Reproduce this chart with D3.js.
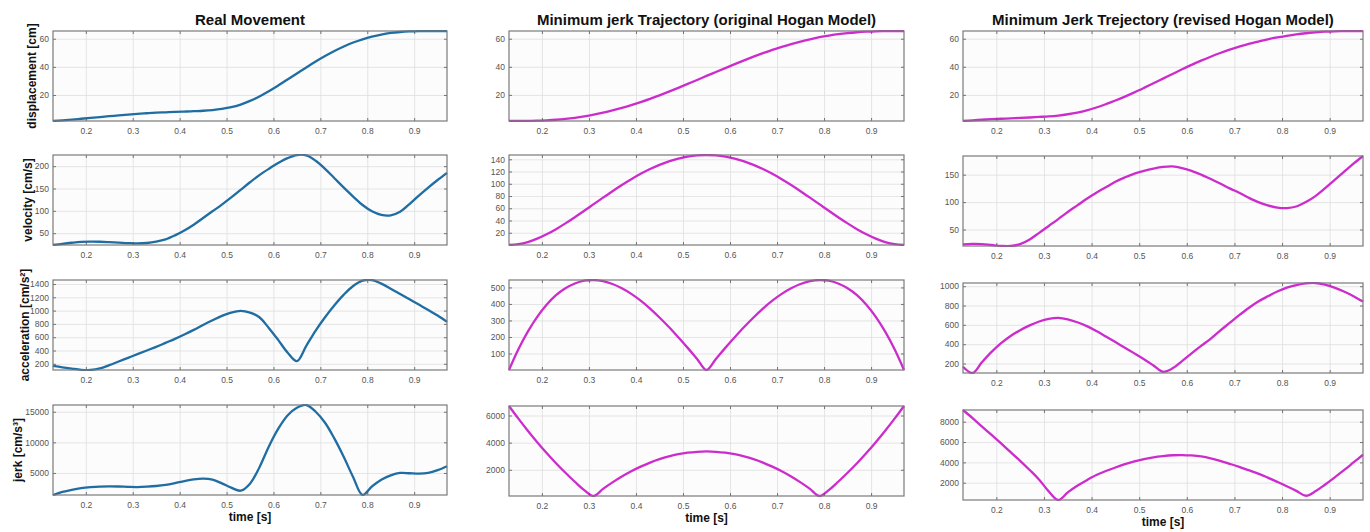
<!DOCTYPE html>
<html>
<head>
<meta charset="utf-8">
<script src="https://cdn.jsdelivr.net/npm/d3@7"></script>
<style>
  body { margin: 0; background: #fff; }
  svg text { font-family: "Liberation Sans", Arial, Helvetica, sans-serif; }
</style>
</head>
<body>
<svg id="chart" width="1370" height="532"></svg>
<script>
// ---- sample times [s] shared by every series ----
const time = [0.13, 0.15, 0.17, 0.19, 0.21, 0.23, 0.25, 0.27, 0.29, 0.31, 0.33, 0.35, 0.37, 0.39, 0.41,
  0.43, 0.45, 0.47, 0.49, 0.51, 0.53, 0.55, 0.57, 0.59, 0.61, 0.63, 0.65, 0.67, 0.69, 0.71, 0.73,
  0.75, 0.77, 0.79, 0.81, 0.83, 0.85, 0.87, 0.89, 0.91, 0.93, 0.95, 0.97];

// ---- real movement ----
const realDisplacement = [1.5, 2.0, 2.5, 3.1, 3.7, 4.3, 4.9, 5.5, 6.1, 6.6, 7.0, 7.4, 7.7, 8.0, 8.2,
  8.5, 8.8, 9.3, 10.1, 11.3, 13.2, 15.8, 18.9, 22.6, 26.7, 31.0, 35.3, 39.6, 43.8, 47.7, 51.3,
  54.5, 57.3, 59.6, 61.5, 63.0, 64.1, 64.8, 65.2, 65.4, 65.5, 65.5, 65.5];
const realVelocity = [23.5, 26, 28.5, 30.5, 31, 30.8, 30, 29, 27.8, 27, 28, 31, 36, 45, 56,
  69, 84, 99, 114, 130, 147, 164, 180, 194, 207, 218, 225, 224, 212, 194, 173,
  152, 132, 113, 99, 91, 90, 98, 115, 134, 152, 169, 185];
const realAcceleration = [170, 148, 128, 110, 107, 130, 180, 235, 290, 345, 400, 455, 515, 575, 640,
  710, 785, 855, 920, 970, 995, 970, 900, 740, 560, 370, 240, 470, 700, 900, 1080,
  1240, 1370, 1450, 1460, 1405, 1330, 1250, 1170, 1090, 1010, 925, 830];
const realJerk = [1400, 1900, 2250, 2520, 2680, 2780, 2815, 2790, 2730, 2700, 2760, 2870, 3060, 3350, 3680,
  3950, 4070, 3900, 3300, 2600, 2100, 3250, 5900, 9300, 12200, 14400, 15650, 16100, 15000, 13200, 10600,
  7600, 4300, 1400, 2800, 3900, 4600, 5000, 4950, 4880, 5000, 5450, 6100];

// ---- minimum jerk trajectory, original Hogan model ----
const hoganDisplacement = [1.4, 1.4, 1.5, 1.6, 1.9, 2.3, 2.9, 3.7, 4.7, 5.9, 7.3, 8.9, 10.7, 12.7, 14.9,
  17.2, 19.7, 22.3, 25.0, 27.8, 30.6, 33.5, 36.3, 39.1, 41.9, 44.6, 47.2, 49.7, 52.1, 54.2, 56.2,
  58.0, 59.6, 61.1, 62.2, 63.2, 64.0, 64.6, 65.0, 65.3, 65.4, 65.5, 65.5];
const hoganVelocity = [0, 1.3, 4.8, 10.4, 17.5, 25.9, 35.3, 45.4, 55.9, 66.7, 77.4, 87.9, 98.0, 107.4, 116.2,
  124.0, 130.8, 136.5, 141.1, 144.3, 146.3, 147, 146.3, 144.3, 141.1, 136.5, 130.8, 124.0, 116.2, 107.4, 98.0,
  87.9, 77.4, 66.7, 55.9, 45.4, 35.3, 25.9, 17.5, 10.4, 4.8, 1.3, 0];
const hoganAcceleration = [0, 125, 232, 322, 395, 453, 495, 524, 541, 545, 538, 521, 495, 461, 420,
  372, 318, 260, 198, 134, 67, 0, 67, 134, 198, 260, 318, 372, 420, 461, 495,
  521, 538, 545, 541, 524, 495, 453, 395, 322, 232, 125, 0];
const hoganJerk = [6700, 5766, 4877, 4034, 3236, 2484, 1778, 1117, 501, 68, 593, 1071, 1504, 1892, 2233,
  2530, 2780, 2985, 3145, 3259, 3327, 3350, 3327, 3259, 3145, 2985, 2780, 2530, 2233, 1892, 1504,
  1071, 593, 68, 501, 1117, 1778, 2484, 3236, 4034, 4877, 5766, 6700];

// ---- minimum jerk trajectory, revised Hogan model ----
const revisedDisplacement = [1.4, 1.9, 2.3, 2.7, 3.0, 3.3, 3.6, 3.9, 4.3, 4.7, 5.3, 6.2, 7.4, 9.0, 11.0,
  13.4, 16.0, 18.8, 21.8, 25.0, 28.3, 31.6, 34.9, 38.2, 41.4, 44.4, 47.2, 49.8, 52.2, 54.3, 56.3,
  58.0, 59.6, 60.9, 62.1, 63.1, 63.9, 64.5, 65.0, 65.3, 65.4, 65.5, 65.5];
const revisedVelocity = [23, 24, 23.5, 21.8, 20.2, 20, 23.5, 32, 44, 56.5, 69, 82, 94, 106, 117,
  127, 137, 145, 152, 157, 161, 164, 165, 162, 157, 150, 142, 134, 125, 117, 108,
  100, 94, 90, 89, 92, 100, 111, 125, 140, 155, 170, 184];
const revisedAcceleration = [166, 102, 215, 320, 410, 485, 545, 595, 635, 662, 672, 657, 627, 587, 537,
  480, 422, 363, 305, 245, 180, 115, 150, 225, 305, 382, 456, 540, 620, 700, 775,
  841, 895, 945, 985, 1012, 1030, 1033, 1015, 985, 945, 897, 841];
const revisedJerk = [9150, 8350, 7520, 6700, 5860, 5000, 4150, 3250, 2300, 1150, 300, 1050, 1700, 2250, 2750,
  3150, 3500, 3820, 4100, 4320, 4500, 4620, 4700, 4720, 4680, 4580, 4400, 4150, 3860, 3560, 3230,
  2900, 2500, 2080, 1650, 1200, 720, 1150, 1800, 2500, 3230, 3990, 4750];

// ---- tick labels ----
const timeTicks = [0.2, 0.3, 0.4, 0.5, 0.6, 0.7, 0.8, 0.9];
const displacementTicks = [20, 40, 60];
const realVelocityTicks = [50, 100, 150, 200];
const realAccelerationTicks = [200, 400, 600, 800, 1000, 1200, 1400];
const realJerkTicks = [5000, 10000, 15000];
const hoganVelocityTicks = [20, 40, 60, 80, 100, 120, 140];
const hoganAccelerationTicks = [100, 200, 300, 400, 500];
const hoganJerkTicks = [2000, 4000, 6000];
const revisedVelocityTicks = [50, 100, 150];
const revisedAccelerationTicks = [200, 400, 600, 800, 1000];
const revisedJerkTicks = [2000, 4000, 6000, 8000];

// ---- text ----
const columnTitles = ["Real Movement",
  "Minimum jerk Trajectory (original Hogan Model)",
  "Minimum Jerk Trejectory (revised Hogan Model)"];
const rowLabels = ["displacement [cm]", "velocity [cm/s]", "acceleration [cm/s²]", "jerk [cm/s³]"];
const xLabel = "time [s]";

// ---- layout ----
const colLeft = [53, 509, 963];
const colWidth = [394, 395, 400];
const rowTop = [[31, 155, 280, 405], [31, 155, 280, 406], [31, 156, 283, 410]];
const panelH = 90;
const rowLabelX = [32, 28, 25, 18];
const lineColors = ["#1f6da3", "#cc2ccc", "#cc2ccc"];

const seriesGrid = [
  [realDisplacement, realVelocity, realAcceleration, realJerk],
  [hoganDisplacement, hoganVelocity, hoganAcceleration, hoganJerk],
  [revisedDisplacement, revisedVelocity, revisedAcceleration, revisedJerk]
];
const tickGrid = [
  [displacementTicks, realVelocityTicks, realAccelerationTicks, realJerkTicks],
  [displacementTicks, hoganVelocityTicks, hoganAccelerationTicks, hoganJerkTicks],
  [displacementTicks, revisedVelocityTicks, revisedAccelerationTicks, revisedJerkTicks]
];

const svg = d3.select("#chart");
const defs = svg.append("defs");

seriesGrid.forEach((col, c) => {
  const left = colLeft[c], w = colWidth[c];

  // column title
  svg.append("text")
    .attr("x", left + w / 2).attr("y", 24.5)
    .attr("text-anchor", "middle")
    .attr("font-size", 15).attr("font-weight", "bold").attr("fill", "#111")
    .text(columnTitles[c]);

  col.forEach((values, r) => {
    const top = rowTop[c][r];
    const g = svg.append("g").attr("transform", `translate(${left},${top})`);
    const x = d3.scaleLinear().domain([time[0], time[time.length - 1]]).range([0, w]);
    const y = d3.scaleLinear().domain(d3.extent(values)).range([panelH, 0]);
    const yTicks = tickGrid[c][r];

    g.append("rect").attr("width", w).attr("height", panelH).attr("fill", "#fcfcfc");

    // grid lines
    g.append("g").attr("class", "grid")
      .call(d3.axisBottom(x).tickValues(timeTicks).tickSize(panelH).tickFormat(""))
      .call(s => s.select(".domain").remove());
    g.append("g").attr("class", "grid")
      .call(d3.axisLeft(y).tickValues(yTicks).tickSize(-w).tickFormat(""))
      .call(s => s.select(".domain").remove());
    g.selectAll(".grid line").attr("stroke", "#dedede").attr("stroke-width", 0.8);

    // series line
    const clipId = `clip-${c}-${r}`;
    defs.append("clipPath").attr("id", clipId)
      .append("rect").attr("x", -1).attr("y", -1).attr("width", w + 2).attr("height", panelH + 2);
    const line = d3.line()
      .x((d, i) => x(time[i]))
      .y(d => y(d))
      .curve(d3.curveCatmullRom.alpha(0.5));
    g.append("path")
      .datum(values)
      .attr("clip-path", `url(#${clipId})`)
      .attr("fill", "none")
      .attr("stroke", lineColors[c])
      .attr("stroke-width", 2.3)
      .attr("stroke-linejoin", "round")
      .attr("d", line);

    // axes with inward ticks on all four sides
    const axB = g.append("g").attr("transform", `translate(0,${panelH})`)
      .call(d3.axisBottom(x).tickValues(timeTicks).tickSizeInner(-3).tickSizeOuter(0)
        .tickPadding(7).tickFormat(d3.format(".1f")));
    const axT = g.append("g")
      .call(d3.axisTop(x).tickValues(timeTicks).tickSizeInner(-3).tickSizeOuter(0).tickFormat(""));
    const axL = g.append("g")
      .call(d3.axisLeft(y).tickValues(yTicks).tickSizeInner(-3).tickSizeOuter(0)
        .tickPadding(4).tickFormat(d3.format("d")));
    const axR = g.append("g").attr("transform", `translate(${w},0)`)
      .call(d3.axisRight(y).tickValues(yTicks).tickSizeInner(-3).tickSizeOuter(0).tickFormat(""));
    [axB, axT, axL, axR].forEach(a => {
      a.select(".domain").remove();
      a.selectAll(".tick line").attr("stroke", "#555").attr("stroke-width", 0.8);
      a.selectAll(".tick text").attr("font-size", 8.5).attr("fill", "#555")
        .attr("font-family", "'Liberation Sans', Arial, sans-serif");
    });

    // box
    g.append("rect").attr("width", w).attr("height", panelH)
      .attr("fill", "none").attr("stroke", "#7a7a7a").attr("stroke-width", 1.2);

    // y label on the first column
    if (c === 0) {
      svg.append("text")
        .attr("transform", `translate(${rowLabelX[r]},${top + panelH / 2}) rotate(-90)`)
        .attr("text-anchor", "middle").attr("dy", "0.35em")
        .attr("font-size", 12).attr("font-weight", "bold").attr("fill", "#111")
        .text(rowLabels[r]);
    }

    // x label under the last row
    if (r === col.length - 1) {
      svg.append("text")
        .attr("x", left + w / 2).attr("y", top + panelH + 26)
        .attr("text-anchor", "middle")
        .attr("font-size", 12).attr("font-weight", "bold").attr("fill", "#111")
        .text(xLabel);
    }
  });
});
</script>
</body>
</html>
